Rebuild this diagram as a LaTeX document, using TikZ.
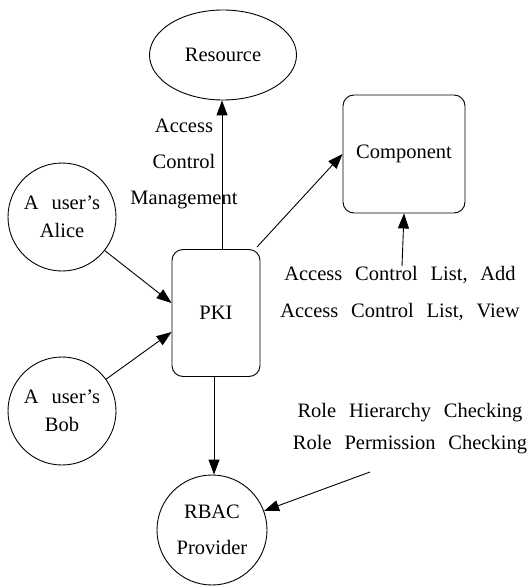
\documentclass[tikz,border=0pt]{standalone}
\usepackage{fontspec}
\setmainfont{Liberation Serif}[WordSpace=2.5]
\usetikzlibrary{arrows.meta,shapes.geometric}
\begin{document}
\begin{tikzpicture}[x=1pt,y=-1pt,
  every node/.style={font=\fontsize{20.5}{22}\selectfont, inner sep=0pt},
  ent/.style={draw, line width=0.9pt, circle, minimum size=108pt, align=center},
  box/.style={draw, line width=0.9pt, rectangle, rounded corners=11pt, align=center},
  lbl/.style={align=center},
  link/.style={line width=0.9pt, -{Triangle[length=15pt,width=11pt]}}
]
\useasboundingbox (0,0) rectangle (530,588);
% entities
\node[draw, line width=0.9pt, ellipse, minimum width=147pt, minimum height=90pt] (res) at (223,55) {Resource};
\node[box, minimum width=88pt, minimum height=127pt] (pki) at (216,313) {PKI};
\node[box, minimum width=122pt, minimum height=118pt] (comp) at (404,154) {Component};
\node[ent, font=\fontsize{20.5}{28}\selectfont] (alice) at (62,217) {A user's\\Alice};
\node[ent, font=\fontsize{20.5}{28}\selectfont] (bob) at (62,411) {A user's\\Bob};
\node[ent, minimum size=110pt, font=\fontsize{20.5}{36}\selectfont] (rbac) at (212,530) {RBAC\\Provider};
% labels
\node[lbl, font=\fontsize{20.5}{36}\selectfont] (acm) at (184,164) {Access\\Control\\Management};
\node[lbl, font=\fontsize{20.5}{37}\selectfont] (acl) at (400,293) {Access Control List, Add\\Access Control List, View};
\node[lbl, font=\fontsize{20.5}{32}\selectfont] (role) at (410,429) {Role Hierarchy Checking\\Role Permission Checking};
\coordinate (aclTop) at (402,266);
\coordinate (roleEnd) at (370,472);
\coordinate (pkiTop) at (222,250);
\coordinate (pkiNE) at (257,247);
\coordinate (pkiBot) at (214,0);
% connectors
\draw[link] (pkiTop) -- (res.south -| pkiTop);
\draw[link] (pkiNE) -- (comp.west);
\draw[link] (alice) -- (pki.west |- 0,303);
\draw[link] (bob) -- (pki.west |- 0,332);
\draw[link] (pki.south -| pkiBot) -- (rbac.north -| pkiBot);
\draw[link] (aclTop) -- (comp.south);
\draw[link] (roleEnd) -- (rbac);
\end{tikzpicture}
\end{document}
